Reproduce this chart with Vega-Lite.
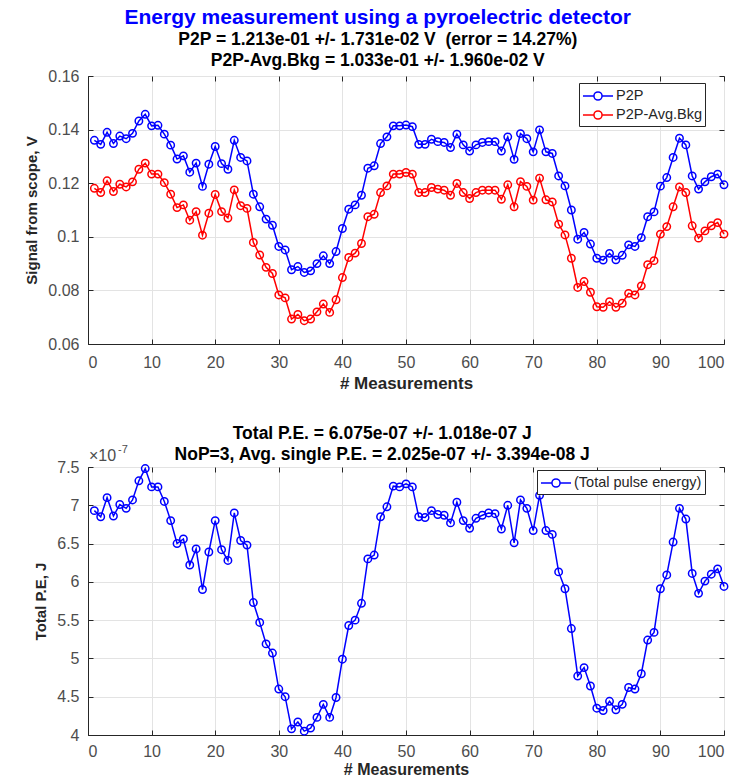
{
  "$schema": "https://vega.github.io/schema/vega-lite/v6.json",
  "background": "white",
  "padding": {"left": 24, "top": 6, "right": 4, "bottom": 0},
  "spacing": 32,
  "config": {
    "font": "Liberation Sans",
    "view": {"stroke": "#262626", "strokeWidth": 1},
    "axis": {
      "labelFont": "Liberation Sans", "labelFontSize": 16, "labelColor": "#4d4d4d",
      "titleFont": "Liberation Sans", "titleFontSize": 15, "titleFontWeight": "bold", "titleColor": "#262626",
      "gridColor": "#e3e3e3", "gridOpacity": 1, "domainColor": "#262626",
      "tickColor": "#262626", "tickSize": -5, "labelPadding": 14, "titlePadding": 8
    },
    "axisX": {"labelPadding": 15, "titlePadding": 5, "titleFontSize": 17},
    "legend": {
      "title": null, "orient": "none",
      "strokeColor": "#262626", "fillColor": "white", "padding": 3,
      "labelFont": "Liberation Sans", "labelFontSize": 14.5, "labelColor": "#262626",
      "symbolType": "M-1.67,0H-0.45M0.45,0H1.67M0.45,0A0.45,0.45 0 1 1 -0.45,0A0.45,0.45 0 1 1 0.45,0Z",
      "symbolSize": 324, "symbolStrokeWidth": 1.5, "symbolOffset": 6, "rowPadding": 1, "labelOffset": 8,
      "cornerRadius": 0
    }
  },
  "datasets": {
    "sig": [
      {"n":1,"series":"P2P","v":0.1360},{"n":2,"series":"P2P","v":0.1345},{"n":3,"series":"P2P","v":0.1390},{"n":4,"series":"P2P","v":0.1348},{"n":5,"series":"P2P","v":0.1376},
      {"n":6,"series":"P2P","v":0.1366},{"n":7,"series":"P2P","v":0.1386},{"n":8,"series":"P2P","v":0.1432},{"n":9,"series":"P2P","v":0.1457},{"n":10,"series":"P2P","v":0.1414},
      {"n":11,"series":"P2P","v":0.1416},{"n":12,"series":"P2P","v":0.1383},{"n":13,"series":"P2P","v":0.1342},{"n":14,"series":"P2P","v":0.1290},{"n":15,"series":"P2P","v":0.1302},
      {"n":16,"series":"P2P","v":0.1241},{"n":17,"series":"P2P","v":0.1275},{"n":18,"series":"P2P","v":0.1188},{"n":19,"series":"P2P","v":0.1271},{"n":20,"series":"P2P","v":0.1337},
      {"n":21,"series":"P2P","v":0.1273},{"n":22,"series":"P2P","v":0.1252},{"n":23,"series":"P2P","v":0.1360},{"n":24,"series":"P2P","v":0.1296},{"n":25,"series":"P2P","v":0.1283},
      {"n":26,"series":"P2P","v":0.1159},{"n":27,"series":"P2P","v":0.1112},{"n":28,"series":"P2P","v":0.1066},{"n":29,"series":"P2P","v":0.1043},{"n":30,"series":"P2P","v":0.0964},
      {"n":31,"series":"P2P","v":0.0951},{"n":32,"series":"P2P","v":0.0877},{"n":33,"series":"P2P","v":0.0889},{"n":34,"series":"P2P","v":0.0867},{"n":35,"series":"P2P","v":0.0873},
      {"n":36,"series":"P2P","v":0.0900},{"n":37,"series":"P2P","v":0.0929},{"n":38,"series":"P2P","v":0.0900},{"n":39,"series":"P2P","v":0.0945},{"n":40,"series":"P2P","v":0.1031},
      {"n":41,"series":"P2P","v":0.1103},{"n":42,"series":"P2P","v":0.1119},{"n":43,"series":"P2P","v":0.1155},{"n":44,"series":"P2P","v":0.1256},{"n":45,"series":"P2P","v":0.1265},
      {"n":46,"series":"P2P","v":0.1348},{"n":47,"series":"P2P","v":0.1373},{"n":48,"series":"P2P","v":0.1414},{"n":49,"series":"P2P","v":0.1414},{"n":50,"series":"P2P","v":0.1417},
      {"n":51,"series":"P2P","v":0.1411},{"n":52,"series":"P2P","v":0.1345},{"n":53,"series":"P2P","v":0.1345},{"n":54,"series":"P2P","v":0.1364},{"n":55,"series":"P2P","v":0.1355},
      {"n":56,"series":"P2P","v":0.1352},{"n":57,"series":"P2P","v":0.1333},{"n":58,"series":"P2P","v":0.1383},{"n":59,"series":"P2P","v":0.1343},{"n":60,"series":"P2P","v":0.1320},
      {"n":61,"series":"P2P","v":0.1343},{"n":62,"series":"P2P","v":0.1352},{"n":63,"series":"P2P","v":0.1355},{"n":64,"series":"P2P","v":0.1355},{"n":65,"series":"P2P","v":0.1320},
      {"n":66,"series":"P2P","v":0.1373},{"n":67,"series":"P2P","v":0.1289},{"n":68,"series":"P2P","v":0.1385},{"n":69,"series":"P2P","v":0.1366},{"n":70,"series":"P2P","v":0.1317},
      {"n":71,"series":"P2P","v":0.1399},{"n":72,"series":"P2P","v":0.1317},{"n":73,"series":"P2P","v":0.1311},{"n":74,"series":"P2P","v":0.1227},{"n":75,"series":"P2P","v":0.1190},
      {"n":76,"series":"P2P","v":0.1100},{"n":77,"series":"P2P","v":0.0991},{"n":78,"series":"P2P","v":0.1016},{"n":79,"series":"P2P","v":0.0973},{"n":80,"series":"P2P","v":0.0920},
      {"n":81,"series":"P2P","v":0.0913},{"n":82,"series":"P2P","v":0.0938},{"n":83,"series":"P2P","v":0.0914},{"n":84,"series":"P2P","v":0.0931},{"n":85,"series":"P2P","v":0.0970},
      {"n":86,"series":"P2P","v":0.0964},{"n":87,"series":"P2P","v":0.0997},{"n":88,"series":"P2P","v":0.1075},{"n":89,"series":"P2P","v":0.1093},{"n":90,"series":"P2P","v":0.1189},
      {"n":91,"series":"P2P","v":0.1221},{"n":92,"series":"P2P","v":0.1296},{"n":93,"series":"P2P","v":0.1368},{"n":94,"series":"P2P","v":0.1343},{"n":95,"series":"P2P","v":0.1227},
      {"n":96,"series":"P2P","v":0.1178},{"n":97,"series":"P2P","v":0.1205},{"n":98,"series":"P2P","v":0.1224},{"n":99,"series":"P2P","v":0.1234},{"n":100,"series":"P2P","v":0.1194},
      {"n":1,"series":"P2P-Avg.Bkg","v":0.1181},{"n":2,"series":"P2P-Avg.Bkg","v":0.1165},{"n":3,"series":"P2P-Avg.Bkg","v":0.1209},{"n":4,"series":"P2P-Avg.Bkg","v":0.1169},{"n":5,"series":"P2P-Avg.Bkg","v":0.1196},
      {"n":6,"series":"P2P-Avg.Bkg","v":0.1186},{"n":7,"series":"P2P-Avg.Bkg","v":0.1205},{"n":8,"series":"P2P-Avg.Bkg","v":0.1252},{"n":9,"series":"P2P-Avg.Bkg","v":0.1275},{"n":10,"series":"P2P-Avg.Bkg","v":0.1234},
      {"n":11,"series":"P2P-Avg.Bkg","v":0.1234},{"n":12,"series":"P2P-Avg.Bkg","v":0.1202},{"n":13,"series":"P2P-Avg.Bkg","v":0.1159},{"n":14,"series":"P2P-Avg.Bkg","v":0.1109},{"n":15,"series":"P2P-Avg.Bkg","v":0.1119},
      {"n":16,"series":"P2P-Avg.Bkg","v":0.1062},{"n":17,"series":"P2P-Avg.Bkg","v":0.1094},{"n":18,"series":"P2P-Avg.Bkg","v":0.1006},{"n":19,"series":"P2P-Avg.Bkg","v":0.1088},{"n":20,"series":"P2P-Avg.Bkg","v":0.1158},
      {"n":21,"series":"P2P-Avg.Bkg","v":0.1094},{"n":22,"series":"P2P-Avg.Bkg","v":0.1070},{"n":23,"series":"P2P-Avg.Bkg","v":0.1175},{"n":24,"series":"P2P-Avg.Bkg","v":0.1116},{"n":25,"series":"P2P-Avg.Bkg","v":0.1106},
      {"n":26,"series":"P2P-Avg.Bkg","v":0.0979},{"n":27,"series":"P2P-Avg.Bkg","v":0.0932},{"n":28,"series":"P2P-Avg.Bkg","v":0.0886},{"n":29,"series":"P2P-Avg.Bkg","v":0.0863},{"n":30,"series":"P2P-Avg.Bkg","v":0.0783},
      {"n":31,"series":"P2P-Avg.Bkg","v":0.0772},{"n":32,"series":"P2P-Avg.Bkg","v":0.0693},{"n":33,"series":"P2P-Avg.Bkg","v":0.0710},{"n":34,"series":"P2P-Avg.Bkg","v":0.0687},{"n":35,"series":"P2P-Avg.Bkg","v":0.0693},
      {"n":36,"series":"P2P-Avg.Bkg","v":0.0720},{"n":37,"series":"P2P-Avg.Bkg","v":0.0749},{"n":38,"series":"P2P-Avg.Bkg","v":0.0718},{"n":39,"series":"P2P-Avg.Bkg","v":0.0765},{"n":40,"series":"P2P-Avg.Bkg","v":0.0848},
      {"n":41,"series":"P2P-Avg.Bkg","v":0.0923},{"n":42,"series":"P2P-Avg.Bkg","v":0.0939},{"n":43,"series":"P2P-Avg.Bkg","v":0.0975},{"n":44,"series":"P2P-Avg.Bkg","v":0.1075},{"n":45,"series":"P2P-Avg.Bkg","v":0.1084},
      {"n":46,"series":"P2P-Avg.Bkg","v":0.1165},{"n":47,"series":"P2P-Avg.Bkg","v":0.1190},{"n":48,"series":"P2P-Avg.Bkg","v":0.1234},{"n":49,"series":"P2P-Avg.Bkg","v":0.1234},{"n":50,"series":"P2P-Avg.Bkg","v":0.1240},
      {"n":51,"series":"P2P-Avg.Bkg","v":0.1234},{"n":52,"series":"P2P-Avg.Bkg","v":0.1165},{"n":53,"series":"P2P-Avg.Bkg","v":0.1165},{"n":54,"series":"P2P-Avg.Bkg","v":0.1184},{"n":55,"series":"P2P-Avg.Bkg","v":0.1178},
      {"n":56,"series":"P2P-Avg.Bkg","v":0.1174},{"n":57,"series":"P2P-Avg.Bkg","v":0.1155},{"n":58,"series":"P2P-Avg.Bkg","v":0.1199},{"n":59,"series":"P2P-Avg.Bkg","v":0.1165},{"n":60,"series":"P2P-Avg.Bkg","v":0.1143},
      {"n":61,"series":"P2P-Avg.Bkg","v":0.1165},{"n":62,"series":"P2P-Avg.Bkg","v":0.1174},{"n":63,"series":"P2P-Avg.Bkg","v":0.1174},{"n":64,"series":"P2P-Avg.Bkg","v":0.1174},{"n":65,"series":"P2P-Avg.Bkg","v":0.1140},
      {"n":66,"series":"P2P-Avg.Bkg","v":0.1194},{"n":67,"series":"P2P-Avg.Bkg","v":0.1112},{"n":68,"series":"P2P-Avg.Bkg","v":0.1206},{"n":69,"series":"P2P-Avg.Bkg","v":0.1188},{"n":70,"series":"P2P-Avg.Bkg","v":0.1137},
      {"n":71,"series":"P2P-Avg.Bkg","v":0.1219},{"n":72,"series":"P2P-Avg.Bkg","v":0.1138},{"n":73,"series":"P2P-Avg.Bkg","v":0.1130},{"n":74,"series":"P2P-Avg.Bkg","v":0.1047},{"n":75,"series":"P2P-Avg.Bkg","v":0.1007},
      {"n":76,"series":"P2P-Avg.Bkg","v":0.0920},{"n":77,"series":"P2P-Avg.Bkg","v":0.0811},{"n":78,"series":"P2P-Avg.Bkg","v":0.0833},{"n":79,"series":"P2P-Avg.Bkg","v":0.0793},{"n":80,"series":"P2P-Avg.Bkg","v":0.0739},
      {"n":81,"series":"P2P-Avg.Bkg","v":0.0737},{"n":82,"series":"P2P-Avg.Bkg","v":0.0758},{"n":83,"series":"P2P-Avg.Bkg","v":0.0737},{"n":84,"series":"P2P-Avg.Bkg","v":0.0752},{"n":85,"series":"P2P-Avg.Bkg","v":0.0789},
      {"n":86,"series":"P2P-Avg.Bkg","v":0.0783},{"n":87,"series":"P2P-Avg.Bkg","v":0.0817},{"n":88,"series":"P2P-Avg.Bkg","v":0.0896},{"n":89,"series":"P2P-Avg.Bkg","v":0.0911},{"n":90,"series":"P2P-Avg.Bkg","v":0.1010},
      {"n":91,"series":"P2P-Avg.Bkg","v":0.1038},{"n":92,"series":"P2P-Avg.Bkg","v":0.1112},{"n":93,"series":"P2P-Avg.Bkg","v":0.1186},{"n":94,"series":"P2P-Avg.Bkg","v":0.1165},{"n":95,"series":"P2P-Avg.Bkg","v":0.1041},
      {"n":96,"series":"P2P-Avg.Bkg","v":0.0995},{"n":97,"series":"P2P-Avg.Bkg","v":0.1022},{"n":98,"series":"P2P-Avg.Bkg","v":0.1041},{"n":99,"series":"P2P-Avg.Bkg","v":0.1053},{"n":100,"series":"P2P-Avg.Bkg","v":0.1010}
    ],
    "pe": [
      {"n":1,"pe":6.93e-7},{"n":2,"pe":6.85e-7},{"n":3,"pe":7.10e-7},{"n":4,"pe":6.86e-7},{"n":5,"pe":7.01e-7},
      {"n":6,"pe":6.96e-7},{"n":7,"pe":7.07e-7},{"n":8,"pe":7.32e-7},{"n":9,"pe":7.48e-7},{"n":10,"pe":7.24e-7},
      {"n":11,"pe":7.24e-7},{"n":12,"pe":7.05e-7},{"n":13,"pe":6.80e-7},{"n":14,"pe":6.50e-7},{"n":15,"pe":6.56e-7},
      {"n":16,"pe":6.22e-7},{"n":17,"pe":6.43e-7},{"n":18,"pe":5.90e-7},{"n":19,"pe":6.39e-7},{"n":20,"pe":6.80e-7},
      {"n":21,"pe":6.42e-7},{"n":22,"pe":6.28e-7},{"n":23,"pe":6.90e-7},{"n":24,"pe":6.54e-7},{"n":25,"pe":6.48e-7},
      {"n":26,"pe":5.73e-7},{"n":27,"pe":5.47e-7},{"n":28,"pe":5.19e-7},{"n":29,"pe":5.07e-7},{"n":30,"pe":4.60e-7},
      {"n":31,"pe":4.50e-7},{"n":32,"pe":4.08e-7},{"n":33,"pe":4.17e-7},{"n":34,"pe":4.05e-7},{"n":35,"pe":4.09e-7},
      {"n":36,"pe":4.23e-7},{"n":37,"pe":4.40e-7},{"n":38,"pe":4.23e-7},{"n":39,"pe":4.49e-7},{"n":40,"pe":4.99e-7},
      {"n":41,"pe":5.43e-7},{"n":42,"pe":5.50e-7},{"n":43,"pe":5.72e-7},{"n":44,"pe":6.30e-7},{"n":45,"pe":6.35e-7},
      {"n":46,"pe":6.85e-7},{"n":47,"pe":6.98e-7},{"n":48,"pe":7.25e-7},{"n":49,"pe":7.24e-7},{"n":50,"pe":7.28e-7},
      {"n":51,"pe":7.24e-7},{"n":52,"pe":6.85e-7},{"n":53,"pe":6.84e-7},{"n":54,"pe":6.93e-7},{"n":55,"pe":6.88e-7},
      {"n":56,"pe":6.87e-7},{"n":57,"pe":6.77e-7},{"n":58,"pe":7.04e-7},{"n":59,"pe":6.80e-7},{"n":60,"pe":6.70e-7},
      {"n":61,"pe":6.83e-7},{"n":62,"pe":6.87e-7},{"n":63,"pe":6.90e-7},{"n":64,"pe":6.89e-7},{"n":65,"pe":6.69e-7},
      {"n":66,"pe":7.00e-7},{"n":67,"pe":6.51e-7},{"n":68,"pe":7.07e-7},{"n":69,"pe":6.96e-7},{"n":70,"pe":6.67e-7},
      {"n":71,"pe":7.13e-7},{"n":72,"pe":6.67e-7},{"n":73,"pe":6.62e-7},{"n":74,"pe":6.13e-7},{"n":75,"pe":5.91e-7},
      {"n":76,"pe":5.39e-7},{"n":77,"pe":4.77e-7},{"n":78,"pe":4.88e-7},{"n":79,"pe":4.64e-7},{"n":80,"pe":4.35e-7},
      {"n":81,"pe":4.32e-7},{"n":82,"pe":4.44e-7},{"n":83,"pe":4.33e-7},{"n":84,"pe":4.40e-7},{"n":85,"pe":4.62e-7},
      {"n":86,"pe":4.60e-7},{"n":87,"pe":4.80e-7},{"n":88,"pe":5.24e-7},{"n":89,"pe":5.34e-7},{"n":90,"pe":5.91e-7},
      {"n":91,"pe":6.09e-7},{"n":92,"pe":6.52e-7},{"n":93,"pe":6.96e-7},{"n":94,"pe":6.82e-7},{"n":95,"pe":6.11e-7},
      {"n":96,"pe":5.85e-7},{"n":97,"pe":6.01e-7},{"n":98,"pe":6.10e-7},{"n":99,"pe":6.17e-7},{"n":100,"pe":5.94e-7}
    ]
  },
  "resolve": {"scale": {"color": "independent", "x": "independent", "y": "independent"}, "legend": {"color": "independent"}},
  "vconcat": [
    {
      "width": 636, "height": 268,
      "title": {
        "text": "Energy measurement using a pyroelectric detector",
        "subtitle": ["P2P = 1.213e-01 +/- 1.731e-02 V \u00a0(error = 14.27%)", "P2P-Avg.Bkg = 1.033e-01 +/- 1.960e-02 V"],
        "color": "#0000ff", "font": "Liberation Sans", "fontSize": 21, "fontWeight": "bold",
        "subtitleColor": "#000000", "subtitleFont": "Liberation Sans", "subtitleFontSize": 17.5, "subtitleFontWeight": "bold",
        "subtitlePadding": 3, "subtitleLineHeight": 21, "anchor": "middle", "frame": "bounds", "offset": -1
      },
      "resolve": {"axis": {"x": "independent", "y": "independent"}},
      "layer": [
        {
          "data": {"name": "sig"},
          "mark": {"type": "line", "strokeWidth": 1.5, "point": {"filled": false, "size": 55, "strokeWidth": 1.5}},
          "encoding": {
            "x": {"field": "n", "type": "quantitative", "scale": {"domain": [0, 100], "nice": false},
                  "axis": {"values": [0, 10, 20, 30, 40, 50, 60, 70, 80, 90, 100], "title": "# Measurements"}},
            "y": {"field": "v", "type": "quantitative", "scale": {"domain": [0.06, 0.16], "nice": false, "zero": false},
                  "axis": {"values": [0.06, 0.08, 0.1, 0.12, 0.14, 0.16], "format": ".2~f", "title": "Signal from scope, V"}},
            "color": {"field": "series", "type": "nominal",
                      "scale": {"domain": ["P2P", "P2P-Avg.Bkg"], "range": ["#0000ff", "#ff0000"]},
                      "legend": {"legendX": 491, "legendY": 7}}
          }
        },
        {
          "data": {"values": [{"label": ""}]},
          "mark": {"type": "text"},
          "encoding": {
            "x": {"datum": 50, "type": "quantitative",
                  "axis": {"orient": "top", "values": [0, 10, 20, 30, 40, 50, 60, 70, 80, 90, 100], "labels": false, "grid": false, "domain": false, "title": null}},
            "y": {"datum": 0.1, "type": "quantitative",
                  "axis": {"orient": "right", "values": [0.06, 0.08, 0.1, 0.12, 0.14, 0.16], "labels": false, "grid": false, "domain": false, "title": null}},
            "text": {"field": "label"}
          }
        }
      ]
    },
    {
      "width": 636, "height": 268,
      "title": {
        "text": ["Total P.E. = 6.075e-07 +/- 1.018e-07 J", "NoP=3, Avg. single P.E. = 2.025e-07 +/- 3.394e-08 J"],
        "color": "#000000", "font": "Liberation Sans", "fontSize": 17.5, "fontWeight": "bold",
        "lineHeight": 21, "anchor": "middle", "frame": "bounds", "offset": -19
      },
      "resolve": {"axis": {"x": "independent", "y": "independent"}},
      "layer": [
        {
          "data": {"name": "pe"},
          "mark": {"type": "line", "strokeWidth": 1.5, "point": {"filled": false, "size": 55, "strokeWidth": 1.5}},
          "encoding": {
            "x": {"field": "n", "type": "quantitative", "scale": {"domain": [0, 100], "nice": false},
                  "axis": {"values": [0, 10, 20, 30, 40, 50, 60, 70, 80, 90, 100], "title": "# Measurements",
                           "labelPadding": 13, "titlePadding": 2, "titleFontSize": 16}},
            "y": {"field": "pe", "type": "quantitative", "scale": {"domain": [4e-7, 7.5e-7], "nice": false, "zero": false},
                  "axis": {"values": [4e-7, 4.5e-7, 5e-7, 5.5e-7, 6e-7, 6.5e-7, 7e-7, 7.5e-7],
                           "labelExpr": "format(datum.value * 1e7, '.2~r')", "title": "Total P.E, J"}},
            "color": {"datum": "(Total pulse energy)", "scale": {"range": ["#0000ff"]},
                      "legend": {"legendX": 449, "legendY": 3}}
          }
        },
        {
          "data": {"values": [{"label": ""}]},
          "mark": {"type": "text"},
          "encoding": {
            "x": {"datum": 50, "type": "quantitative",
                  "axis": {"orient": "top", "values": [0, 10, 20, 30, 40, 50, 60, 70, 80, 90, 100], "labels": false, "grid": false, "domain": false, "title": null}},
            "y": {"datum": 6e-7, "type": "quantitative",
                  "axis": {"orient": "right", "values": [4e-7, 4.5e-7, 5e-7, 5.5e-7, 6e-7, 6.5e-7, 7e-7, 7.5e-7], "labels": false, "grid": false, "domain": false, "title": null}},
            "text": {"field": "label"}
          }
        },
        {
          "data": {"values": [{"label": "×10"}]},
          "mark": {"type": "text", "align": "left", "baseline": "bottom", "dx": 1, "dy": -3,
                   "font": "Liberation Sans", "fontSize": 16, "color": "#4d4d4d"},
          "encoding": {
            "x": {"datum": 0, "type": "quantitative", "axis": null},
            "y": {"datum": 7.5e-7, "type": "quantitative", "axis": null},
            "text": {"field": "label"}
          }
        },
        {
          "data": {"values": [{"label": "-7"}]},
          "mark": {"type": "text", "align": "left", "baseline": "bottom", "dx": 30, "dy": -12,
                   "font": "Liberation Sans", "fontSize": 11, "color": "#4d4d4d"},
          "encoding": {
            "x": {"datum": 0, "type": "quantitative", "axis": null},
            "y": {"datum": 7.5e-7, "type": "quantitative", "axis": null},
            "text": {"field": "label"}
          }
        }
      ]
    }
  ]
}
